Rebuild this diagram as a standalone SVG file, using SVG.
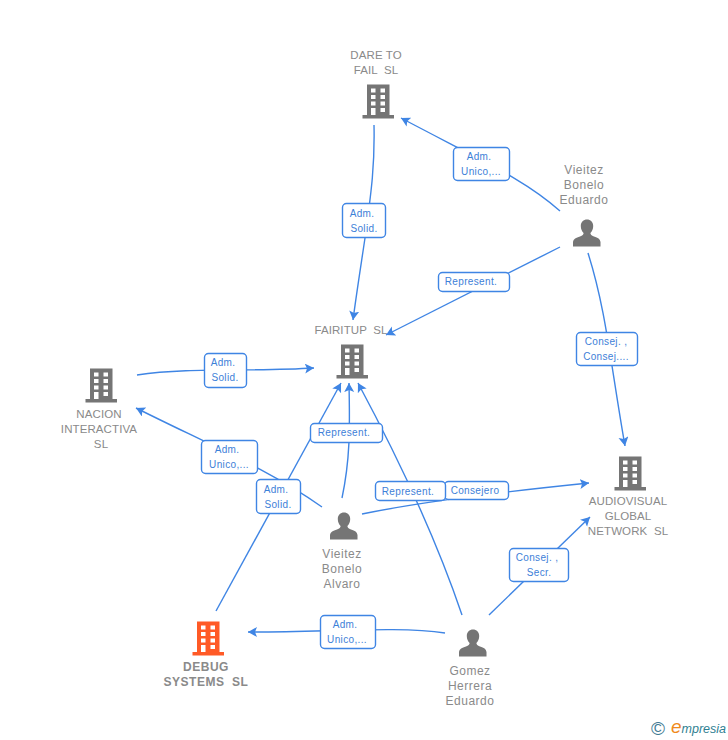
<svg xmlns="http://www.w3.org/2000/svg" xmlns:xlink="http://www.w3.org/1999/xlink" width="728" height="740" viewBox="0 0 728 740">
<style>
text{font-family:"Liberation Sans",Arial,sans-serif;white-space:pre}
.n{font-size:11.5px;fill:#8a8a8a;text-anchor:middle;letter-spacing:.1px}
.p{font-size:12px;letter-spacing:.5px}
.b{font-weight:bold;font-size:12px;letter-spacing:.5px}
.l{font-size:10px;fill:#3d80d8;text-anchor:middle;letter-spacing:.35px}
.c{fill:none;stroke:#3f85e4;stroke-width:1.4}
.box{fill:#fff;stroke:#3f85e4;stroke-width:1.4}
</style>
<defs>
<marker id="a" markerUnits="userSpaceOnUse" markerWidth="12" markerHeight="12" refX="9" refY="5" orient="auto"><path d="M0,0 L9,5 L0,10 L2,5 Z" fill="#3f85e4"/></marker>
<symbol id="bld" width="33" height="35" viewBox="0 0 33 35" overflow="visible">
<path fill="var(--i,#757575)" d="M5,0.5H27.5V31H32V34.5H0.5V31H5Z"/>
<path fill="#fff" d="M9,4.5h4.5v4H9zM18.5,4.5h4.5v4h-4.5zM9,11h4.5v4H9zM18.5,11h4.5v4h-4.5zM9,17.5h4.5v4H9zM18.5,17.5h4.5v4h-4.5zM9,24h4.5v7H9zM18.5,24h4.5v4h-4.5z"/>
</symbol>
<symbol id="per" width="28" height="28" viewBox="0 0 28 28" overflow="visible">
<path fill="#757575" d="M14,0.5C10.5,0.5 7.8,3 7.8,7C7.8,10 9,12.5 10.6,14C10.6,15.5 9.5,16.5 7,17.5C3,19 0.5,19.8 0,23V27.5H27.5V23C27,19.8 25,19 21,17.5C18.5,16.5 17.4,15.5 17.4,14C19,12.5 20.2,10 20.2,7C20.2,3 17.5,0.5 14,0.5Z"/>
</symbol>
</defs>
<g id="connectors">
<path class="c" marker-end="url(#a)" d="M374,125C375,170 370,200 365,238C361,265 357,290 353,320"/>
<path class="c" marker-end="url(#a)" d="M560,211C525,180 490,165 401,118"/>
<path class="c" marker-end="url(#a)" d="M560,247L386,335"/>
<path class="c" marker-end="url(#a)" d="M588,253C606,310 610,360 625,446"/>
<path class="c" marker-end="url(#a)" d="M137,375C190,367 250,372 314,368"/>
<path class="c" marker-end="url(#a)" d="M322,507C270,470 210,445 136,408"/>
<path class="c" marker-end="url(#a)" d="M216,611L341,383"/>
<path class="c" marker-end="url(#a)" d="M342,498C350,460 350,430 349,383"/>
<path class="c" marker-end="url(#a)" d="M462,615C440,550 410,480 358,383"/>
<path class="c" marker-end="url(#a)" d="M362,514C430,500 510,491 589,483"/>
<path class="c" marker-end="url(#a)" d="M445,633C400,626 330,632 248,632"/>
<path class="c" marker-end="url(#a)" d="M489,615L590,517"/>
</g>
<g id="labels">
<g><rect class="box" x="342.500" y="203.500" width="43" height="34" rx="4"/><text class="l" x="362" y="217">Adm.</text><text class="l" x="364" y="232">Solid.</text></g>
<g><rect class="box" x="453.500" y="147.500" width="56" height="33" rx="4"/><text class="l" x="479" y="160">Adm.</text><text class="l" x="481" y="175">Unico,...</text></g>
<g><rect class="box" x="438.500" y="272.500" width="71" height="19" rx="4"/><text class="l" x="471" y="285">Represent.</text></g>
<g><rect class="box" x="576.500" y="332.500" width="61" height="33" rx="4"/><text class="l" x="606" y="345">Consej. ,</text><text class="l" x="606" y="360">Consej....</text></g>
<g><rect class="box" x="204.500" y="353.500" width="42" height="34" rx="4"/><text class="l" x="223" y="366">Adm.</text><text class="l" x="225" y="381">Solid.</text></g>
<g><rect class="box" x="201.500" y="440.500" width="56" height="33" rx="4"/><text class="l" x="227" y="453">Adm.</text><text class="l" x="229" y="468">Unico,...</text></g>
<g><rect class="box" x="256.500" y="479.500" width="44" height="34" rx="4"/><text class="l" x="276" y="493">Adm.</text><text class="l" x="278" y="508">Solid.</text></g>
<g><rect class="box" x="310.500" y="423.500" width="72" height="19" rx="4"/><text class="l" x="344" y="436">Represent.</text></g>
<g><rect class="box" x="444.500" y="481.500" width="64" height="18" rx="4"/><text class="l" x="475" y="494">Consejero</text></g>
<g><rect class="box" x="375.500" y="481.500" width="70" height="19" rx="4"/><text class="l" x="408" y="495">Represent.</text></g>
<g><rect class="box" x="320.500" y="615.500" width="55" height="33" rx="4"/><text class="l" x="345" y="628">Adm.</text><text class="l" x="347" y="643">Unico,...</text></g>
<g><rect class="box" x="509.500" y="548.500" width="59" height="33" rx="4"/><text class="l" x="537" y="561">Consej. ,</text><text class="l" x="539" y="576">Secr.</text></g>
</g>
<g id="n-dare"><text class="n" x="376" y="59">DARE TO</text><text class="n" x="376" y="74">FAIL  SL</text><use xlink:href="#bld" href="#bld" x="362" y="84"/></g>
<g id="n-fairitup"><text class="n" x="351" y="334">FAIRITUP  SL</text><use href="#bld" x="336" y="344"/></g>
<g id="n-nacion"><text class="n" x="99" y="418">NACION</text><text class="n" x="99" y="433">INTERACTIVA</text><text class="n" x="101" y="448">SL</text><use href="#bld" x="85" y="368"/></g>
<g id="n-audio"><text class="n" x="628" y="505">AUDIOVISUAL</text><text class="n" x="628" y="520">GLOBAL</text><text class="n" x="628" y="535">NETWORK  SL</text><use href="#bld" x="614" y="456"/></g>
<g id="n-debug"><text class="n b" x="206" y="671">DEBUG</text><text class="n b" x="206" y="686">SYSTEMS  SL</text><use href="#bld" x="192" y="621" style="--i:#ff5a26"/></g>
<g id="n-eduardo"><text class="n p" x="584" y="174">Vieitez</text><text class="n p" x="584" y="189">Bonelo</text><text class="n p" x="584" y="204">Eduardo</text><use href="#per" x="573" y="219"/></g>
<g id="n-alvaro"><text class="n p" x="342" y="558">Vieitez</text><text class="n p" x="342" y="573">Bonelo</text><text class="n p" x="342" y="588">Alvaro</text><use href="#per" x="330" y="512"/></g>
<g id="n-gomez"><text class="n p" x="470" y="675">Gomez</text><text class="n p" x="470" y="690">Herrera</text><text class="n p" x="470" y="705">Eduardo</text><use href="#per" x="459" y="629"/></g>
<g id="logo"><text x="658" y="735" font-size="19" fill="#3f7b94" text-anchor="middle">©</text><text x="671" y="733" font-size="12.500" font-style="italic" fill="#2f7f92"><tspan fill="#f08a1d" font-size="19">e</tspan>mpresia</text></g>
</svg>
